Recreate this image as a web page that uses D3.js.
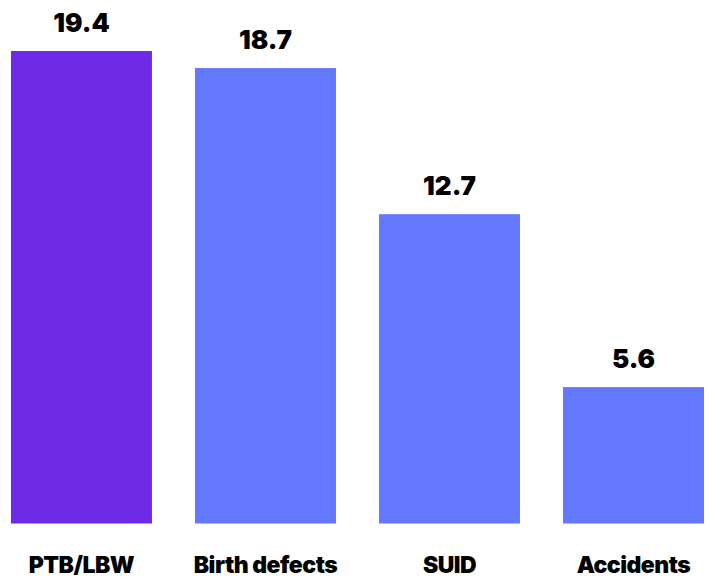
<!DOCTYPE html>
<html lang="en">
<head>
  <meta charset="UTF-8">
  <title>Causes</title>
  <script src="https://d3js.org/d3.v7.min.js"></script>
  <style>
    body { margin: 0; background: #fff; }
    .value { font-family: Inter, "Noto Sans", sans-serif; font-weight: 900; font-size: 26px; fill: #000; }
    .cat { font-family: Inter, "Noto Sans", sans-serif; font-weight: 900; font-size: 23px; fill: #000; letter-spacing: -0.5px; }
  </style>
</head>
<body>
  <svg></svg>
  <script>
    const categories = ["PTB/LBW", "Birth defects", "SUID", "Accidents"];
    const values = [19.4, 18.7, 12.7, 5.6];
    const colors = ["#6f2ae8", "#6378ff", "#6378ff", "#6378ff"];

    const width = 709, height = 578;
    const baseY = 523.5;

    const svg = d3.select("svg")
      .attr("width", width)
      .attr("height", height);

    const x = d3.scaleBand()
      .domain(categories)
      .range([11, 704])
      .paddingInner(0.234)
      .paddingOuter(0);

    const y = d3.scaleLinear()
      .domain([0, 19.4])
      .range([baseY, 51]);

    svg.selectAll("rect")
      .data(values)
      .enter().append("rect")
      .attr("x", (d, i) => x(categories[i]))
      .attr("y", d => y(d))
      .attr("width", x.bandwidth())
      .attr("height", d => baseY - y(d))
      .attr("fill", (d, i) => colors[i]);

    svg.selectAll(".value")
      .data(values)
      .enter().append("text")
      .attr("class", "value")
      .attr("x", (d, i) => x(categories[i]) + x.bandwidth() / 2)
      .attr("y", d => y(d) - 19)
      .attr("text-anchor", "middle")
      .text(d => d.toFixed(1));

    svg.selectAll(".cat")
      .data(categories)
      .enter().append("text")
      .attr("class", "cat")
      .attr("x", d => x(d) + x.bandwidth() / 2)
      .attr("y", 573)
      .attr("text-anchor", "middle")
      .text(d => d);
  </script>
</body>
</html>
